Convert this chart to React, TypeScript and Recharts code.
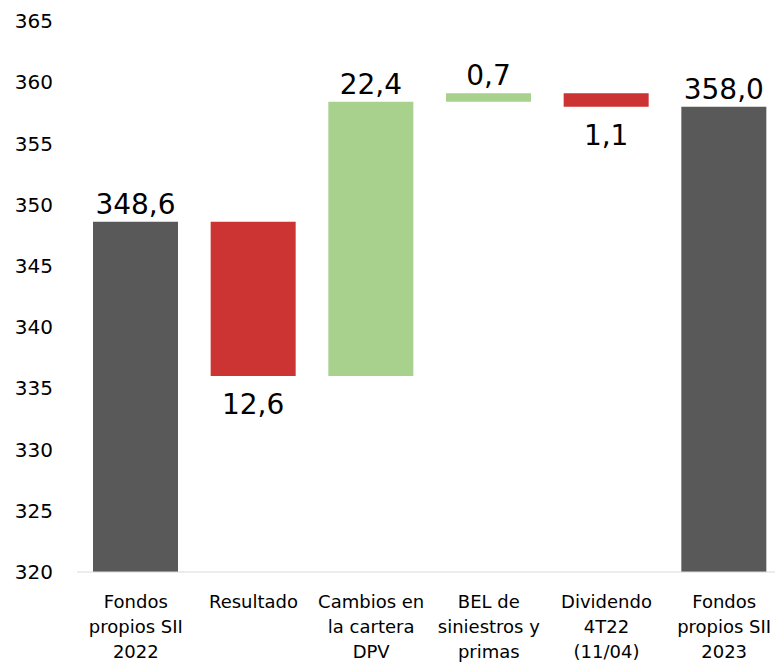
import { BarChart, Bar, XAxis, YAxis, Cell, LabelList } from "recharts";

// categories (line breaks as in the original axis)
const categories = [
  "Fondos\npropios SII\n2022",
  "Resultado",
  "Cambios en\nla cartera\nDPV",
  "BEL de\nsiniestros y\nprimas",
  "Dividendo\n4T22\n(11/04)",
  "Fondos\npropios SII\n2023",
];
const totals: (number | null)[] = [348.6, null, null, null, null, 358.0];
const changes: (number | null)[] = [null, -12.6, 22.4, 0.7, -1.1, null];
const yTicks = [320, 325, 330, 335, 340, 345, 350, 355, 360, 365];

const GRAY = "#595959";
const RED = "#CC3333";
const GREEN = "#A9D18E";
const FONT = "DejaVu Sans";

// build waterfall ranges
let running = 0;
const data = categories.map((name, i) => {
  const t = totals[i];
  if (t != null) {
    running = t;
    return { name, range: [0, t], value: t, kind: "total" };
  }
  const d = changes[i] as number;
  const start = running;
  const end = running + d;
  running = end;
  return {
    name,
    range: [Math.min(start, end), Math.max(start, end)],
    value: d,
    kind: d < 0 ? "down" : "up",
  };
});

const fmt = (v: number) => Math.abs(v).toFixed(1).replace(".", ",");

const CategoryTick = (props: any) => {
  const { x, y, payload } = props;
  const lines = String(payload.value).split("\n");
  return (
    <text
      x={x}
      y={y + 36}
      textAnchor="middle"
      fontSize={18}
      fontFamily={FONT}
      fill="#000"
    >
      {lines.map((l, i) => (
        <tspan key={i} x={x} dy={i === 0 ? 0 : 25}>
          {l}
        </tspan>
      ))}
    </text>
  );
};

const ValueLabel = (props: any) => {
  const { x, y, width, height, index } = props;
  const row = data[index];
  const down = row.kind === "down";
  return (
    <text
      x={x + width / 2}
      y={down ? y + height + 38 : y - 8}
      textAnchor="middle"
      fontSize={28}
      fontFamily={FONT}
      fill="#000"
    >
      {fmt(row.value)}
    </text>
  );
};

export default function App() {
  return (
    <div
      style={{
        position: "absolute",
        left: 0,
        top: 0,
        width: 775,
        height: 667,
        overflow: "hidden",
      }}
    >
      <BarChart
        width={783}
        height={667}
        data={data}
        margin={{ top: 21, right: 0, bottom: 0, left: 0 }}
      >
        <XAxis
          dataKey="name"
          interval={0}
          height={95}
          tickLine={false}
          tickSize={0}
          tickMargin={0}
          axisLine={{ stroke: "#D9D9D9", strokeWidth: 1 }}
          tick={<CategoryTick />}
        />
        <YAxis
          width={77}
          domain={[320, 365]}
          ticks={yTicks}
          allowDataOverflow
          axisLine={false}
          tickLine={false}
          tickSize={0}
          tickMargin={24}
          tick={{ fontSize: 20, fill: "#000", fontFamily: FONT }}
        />
        <Bar dataKey="range" barSize={85} isAnimationActive={false}>
          {data.map((d, i) => (
            <Cell
              key={i}
              fill={d.kind === "total" ? GRAY : d.kind === "down" ? RED : GREEN}
            />
          ))}
          <LabelList dataKey="value" content={<ValueLabel />} />
        </Bar>
      </BarChart>
    </div>
  );
}
